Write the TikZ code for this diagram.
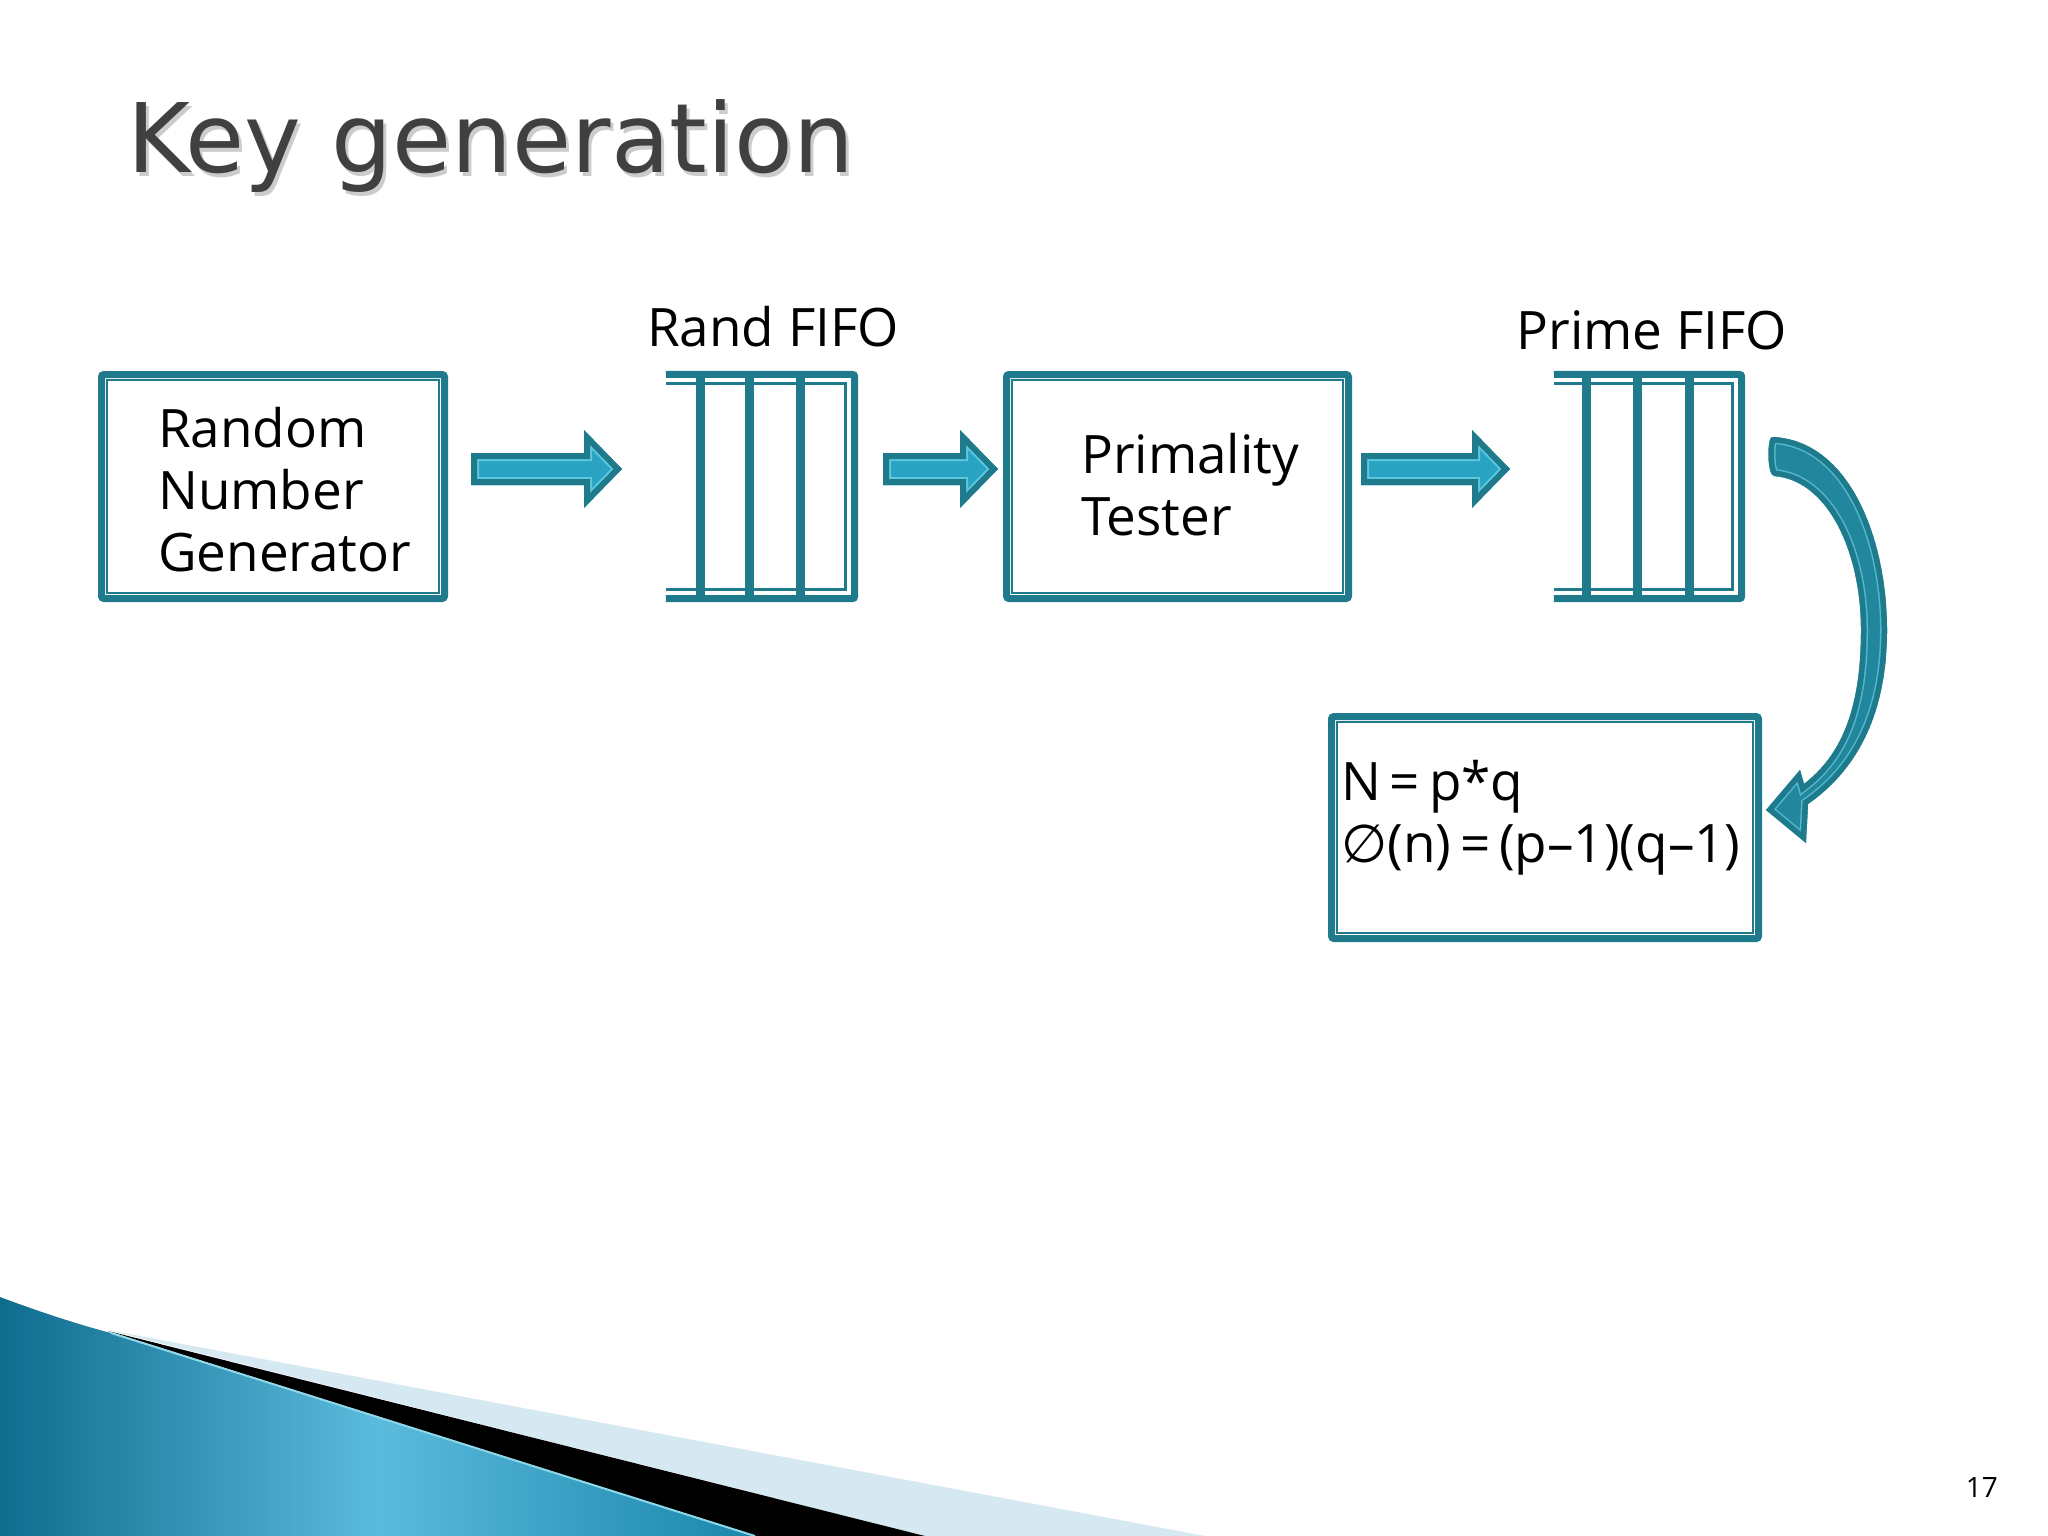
\documentclass[tikz,border=0pt]{standalone}
\usepackage{fontspec}
\setmainfont{Open Sans}
\newfontfamily\titlefont{DejaVu Sans}
\newfontfamily\symfont{DejaVu Sans}
\usetikzlibrary{calc}
\definecolor{teal1}{HTML}{1F7A8C}
\definecolor{arrlight}{HTML}{2AA3C2}
\definecolor{arrhl}{HTML}{5CC8E0}
\definecolor{titlegray}{HTML}{404040}
\definecolor{swooshA}{HTML}{0F6C8E}
\definecolor{swooshB}{HTML}{5BBBDC}
\definecolor{swooshC}{HTML}{1A86AC}
\definecolor{paleblue}{HTML}{D6E8F1}
\newcommand{\fancyarrow}[1]{%
  \begin{scope}
    \clip #1;
    \fill[arrlight] #1;
    \draw[arrhl, line width=16] #1;
    \draw[teal1, line width=12] #1;
  \end{scope}}
\newcommand{\fancyarrowB}[1]{%
  \begin{scope}
    \clip #1;
    \fill[teal1!70!arrlight] #1;
    \draw[arrhl!80!teal1, line width=14] #1;
    \draw[teal1, line width=11] #1;
  \end{scope}}
\newcommand{\harrowpath}[2]{($(#1)+(0,-16)$) -- ($(#2)+(-38,-16)$) -- ($(#2)+(-38,-39)$) -- (#2) -- ($(#2)+(-38,39)$) -- ($(#2)+(-38,16)$) -- ($(#1)+(0,16)$) -- cycle}
\begin{document}
\begin{tikzpicture}[x=1pt,y=-1pt,
  box/.style={draw=teal1, line width=7, rounded corners=2.5, inner sep=0},
  fifo/.style={inner sep=0, minimum width=185, minimum height=224},
  bodytext/.style={font=\fontsize{53}{62}\selectfont, inner sep=0, align=left},
  thinline/.style={teal1, line width=2.5},
  thickline/.style={teal1, line width=7, rounded corners=2.5},
  fifobar/.style={teal1, line width=9}]
\useasboundingbox (0,0) rectangle (2048,1536);
\fill[white] (0,0) rectangle (2048,1536);

% bottom-left swoosh
\fill[paleblue] (108,1330) -- (1205,1536) -- (925,1536) -- cycle;
\fill[black] (108,1331) -- (925,1536) -- (755,1536) -- cycle;
\shade[left color=swooshA, right color=swooshC, middle color=swooshB]
  (0,1297) .. controls (40,1312) and (80,1325) .. (111,1333) -- (755,1536) -- (0,1536) -- cycle;
\draw[arrhl!70, line width=2] (111,1333) -- (755,1536);

% title
\node[anchor=base west, inner sep=0, text=gray!40, font=\titlefont\fontsize{96}{110}\selectfont] (titleshadow) at (130,176) {Key generation};
\node[anchor=base west, inner sep=0, text=titlegray, font=\titlefont\fontsize{96}{110}\selectfont] (title) at (127,172) {Key generation};

% boxes
\node[box, minimum width=343, minimum height=224] (b1) at (273,486.5) {};
\draw[thinline] ([shift={(9,9)}]b1.north west) rectangle ([shift={(-9,-9)}]b1.south east);
\node[box, minimum width=342, minimum height=224] (b2) at (1177.5,486.5) {};
\draw[thinline] ([shift={(9,9)}]b2.north west) rectangle ([shift={(-9,-9)}]b2.south east);
\node[box, minimum width=427, minimum height=222] (b3) at (1545,827.5) {};
\draw[thinline] ([shift={(9,9)}]b3.north west) rectangle ([shift={(-9,-9)}]b3.south east);

% FIFOs
\node[fifo] (fifo1) at (762,486.5) {};
\draw[thickline] ([xshift=-3.5]fifo1.north west) -- (fifo1.north east) -- (fifo1.south east) -- ([xshift=-3.5]fifo1.south west);
\draw[thinline] ([shift={(-3.5,9)}]fifo1.north west) -- ([shift={(-9,9)}]fifo1.north east) -- ([shift={(-9,-9)}]fifo1.south east) -- ([shift={(-3.5,-9)}]fifo1.south west);
\foreach \o in {31.5,80.5,131.5}
  \draw[fifobar] ([shift={(\o,-3.5)}]fifo1.north west) -- ([shift={(\o,3.5)}]fifo1.south west);

\node[fifo, minimum width=184] (fifo2) at (1649.5,486.5) {};
\draw[thickline] ([xshift=-3.5]fifo2.north west) -- (fifo2.north east) -- (fifo2.south east) -- ([xshift=-3.5]fifo2.south west);
\draw[thinline] ([shift={(-3.5,9)}]fifo2.north west) -- ([shift={(-9,9)}]fifo2.north east) -- ([shift={(-9,-9)}]fifo2.south east) -- ([shift={(-3.5,-9)}]fifo2.south west);
\foreach \o in {29.5,80.5,132.5}
  \draw[fifobar] ([shift={(\o,-3.5)}]fifo2.north west) -- ([shift={(\o,3.5)}]fifo2.south west);

% labels
\node[anchor=base, inner sep=0, font=\fontsize{53}{62}\selectfont] (l1) at (773,346) {Rand FIFO};
\node[anchor=base, inner sep=0, font=\fontsize{53}{62}\selectfont] (l2) at (1652,349) {Prime FIFO};

\node[bodytext, anchor=west] (t1) at (158,490) {Random\\Number\\Generator};
\node[bodytext, anchor=west] (t2) at (1081,485) {Primality\\Tester};
\node[bodytext, anchor=west] (t3) at (1341,818) {N\,=\,p*q\\{\symfont ∅}(n)\,=\,(p–1)(q–1)};

% block arrows
\coordinate (a1s) at (471,469); \coordinate (a1e) at (622,469);
\coordinate (a2s) at (883,469); \coordinate (a2e) at (998,469);
\coordinate (a3s) at (1361,469); \coordinate (a3e) at (1510,469);
\fancyarrow{\harrowpath{a1s}{a1e}}
\fancyarrow{\harrowpath{a2s}{a2e}}
\fancyarrow{\harrowpath{a3s}{a3e}}

% curved arrow from Prime FIFO to result box
\coordinate (ca) at (1772,455);
\coordinate (cb) at (1766,810);
\fancyarrowB{(1772,437) .. controls (1850,440) and (1887,540) .. (1887,630) .. controls (1887,718) and (1854,772) .. (1808,804) -- (1806,843) -- (cb) -- (1800,770) -- (1804,784) .. controls (1840,756) and (1861,712) .. (1861,630) .. controls (1861,552) and (1828,480) .. (1774,476) .. controls (1767,475) and (1767,438) .. (1772,437) -- cycle}

% page number
\node[anchor=base east, inner sep=0, font=\fontsize{28}{30}\selectfont] (pg) at (1998,1497) {17};
\end{tikzpicture}
\end{document}
